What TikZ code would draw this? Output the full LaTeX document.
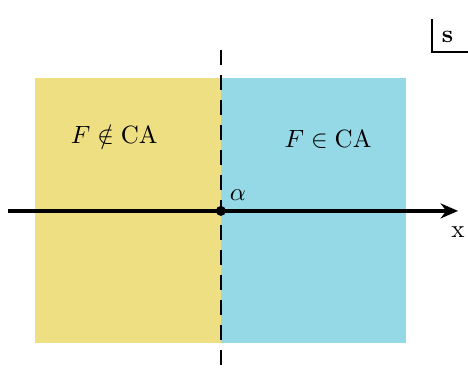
\documentclass[tikz,border=0pt]{standalone}
\usepackage{amsmath}
\usepackage{amssymb}
\usetikzlibrary{arrows.meta, positioning}
\definecolor{outyellow}{RGB}{238,223,131}
\definecolor{inblue}{RGB}{149,216,230}

\begin{document}
\begin{tikzpicture}
    \useasboundingbox (0,0) rectangle (6.59,5.17);
    % Regions
    \fill[outyellow] (0.49,0.34) rectangle (3.11,4.07);
    \fill[inblue] (3.11,0.34) rectangle (5.72,4.07);
    \node (notin) at (1.61,3.27) {$F\notin\mathrm{CA}$};
    \node (isin) at (4.62,3.20) {$F\in\mathrm{CA}$};

    % Boundary
    \coordinate (top) at (3.11,4.46);
    \coordinate (bottom) at (3.11,0);
    \draw[dashed, line width=0.8pt, dash pattern=on 6pt off 4pt] (top) -- (bottom);

    % Axis
    \coordinate (left) at (0.11,2.20);
    \coordinate (right) at (6.45,2.20);
    \draw[line width=1.3pt, -{Stealth[length=7pt, width=6pt]}] (left) -- (right);
    \node[below=3pt of right] (xlabel) {x};
    \fill (3.11,2.20) circle (2pt);
    \node (alpha) at (3.35,2.42) {$\alpha$};

    % Corner label
    \draw[line width=0.8pt] (6.08,4.90) -- (6.08,4.44) -- (6.59,4.44);
    \node (s) at (6.30,4.65) {\textbf{s}};
\end{tikzpicture}
\end{document}
